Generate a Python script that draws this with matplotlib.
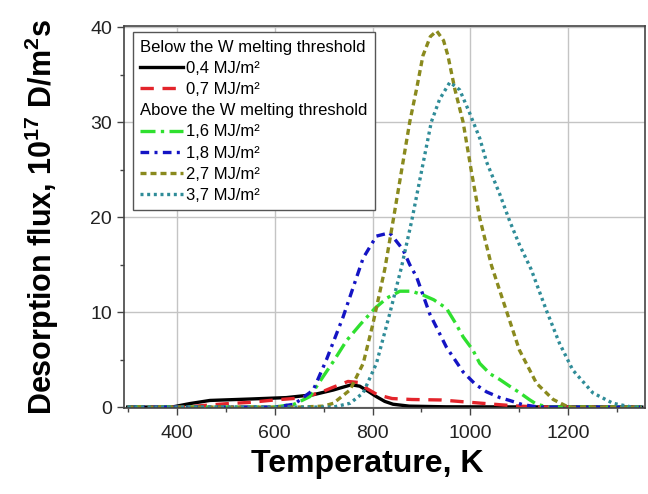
import matplotlib.pyplot as plt
from matplotlib.ticker import MultipleLocator

plt.rcParams['font.family'] = ['Liberation Sans', 'DejaVu Sans']
plt.rcParams['mathtext.fontset'] = 'custom'
plt.rcParams['mathtext.rm'] = 'Liberation Sans'
plt.rcParams['mathtext.bf'] = 'Liberation Sans:bold'

# temperature (K) / desorption flux (1e17 D/m2s)
t_04 = [300, 390, 427, 468, 550, 624, 679, 720, 740, 757, 774, 790, 808, 825, 842, 875, 950, 1350]
f_04 = [0, 0, 0.37, 0.7, 0.85, 1.0, 1.3, 1.8, 2.1, 2.35, 2.2, 1.7, 1.1, 0.6, 0.3, 0.1, 0.03, 0]

t_07 = [300, 420, 450, 500, 550, 600, 650, 692, 720, 750, 770, 790, 810, 840, 880, 940, 1000, 1060, 1100, 1150, 1350]
f_07 = [0, 0, 0.15, 0.35, 0.5, 0.75, 0.95, 1.5, 2.1, 2.7, 2.6, 1.9, 1.3, 0.9, 0.8, 0.75, 0.5, 0.25, 0.1, 0, 0]

t_16 = [300, 600, 640, 672, 699, 720, 747, 775, 805, 830, 856, 880, 903, 925, 951, 970, 985, 1005, 1019,
        1040, 1060, 1080, 1101, 1120, 1135, 1160, 1350]
f_16 = [0, 0, 0.3, 1.1, 3.2, 4.8, 7.0, 8.7, 10.4, 11.5, 12.2, 12.2, 11.8, 11.3, 10.4, 8.8, 7.4, 6.0, 4.6,
        3.5, 2.9, 2.2, 1.5, 0.8, 0.3, 0, 0]

t_18 = [300, 600, 640, 679, 706, 740, 781, 808, 835, 862, 876, 890, 917, 951, 985, 1010, 1033, 1060, 1080,
        1107, 1140, 1350]
f_18 = [0, 0, 0.3, 1.8, 5.0, 9.5, 15.7, 18.0, 18.35, 16.6, 15.0, 13.7, 9.8, 6.3, 3.7, 2.4, 1.6, 1.0, 0.7,
        0.25, 0, 0]

t_27 = [300, 650, 700, 720, 754, 781, 801, 825, 842, 859, 876, 890, 903, 918, 931, 945, 954, 968, 985, 1002,
        1019, 1043, 1073, 1100, 1135, 1169, 1200, 1350]
f_27 = [0, 0, 0.1, 0.4, 1.8, 4.6, 8.8, 14.5, 19.6, 24.8, 30.0, 33.5, 37.0, 39.0, 39.6, 38.6, 37.0, 33.5,
        30.0, 24.8, 19.9, 14.9, 10.2, 6.0, 2.5, 0.8, 0, 0]

t_37 = [300, 720, 754, 781, 808, 835, 859, 880, 900, 920, 937, 958, 978, 998, 1019, 1033, 1060, 1080, 1100,
        1124, 1155, 1182, 1209, 1250, 1291, 1330, 1350]
f_37 = [0, 0, 0.4, 1.5, 4.6, 9.8, 14.7, 19.6, 24.8, 30.0, 32.4, 34.2, 33.4, 31.0, 28.3, 25.8, 22.4, 19.6,
        17.1, 14.5, 10.2, 6.7, 3.9, 1.5, 0.4, 0, 0]

header_below = 'Below the W melting threshold'
header_above = 'Above the W melting threshold'

fig = plt.figure(figsize=(6.48, 4.94), dpi=100)
ax = fig.add_axes([0.191, 0.174, 0.804, 0.773])

lw = 2.4
l04, = ax.plot(t_04, f_04, color='black', lw=lw, label='0,4 MJ/m²')
l07, = ax.plot(t_07, f_07, color='#e3242b', lw=lw, ls=(0, (4, 2.6)), label='0,7 MJ/m²')
l16, = ax.plot(t_16, f_16, color='#2fe02f', lw=lw, ls=(0, (4.5, 1.6, 1, 1.6)), label='1,6 MJ/m²')
l18, = ax.plot(t_18, f_18, color='#1414c4', lw=lw, ls=(0, (2.6, 1.6, 0.9, 1.6)), label='1,8 MJ/m²')
l27, = ax.plot(t_27, f_27, color='#8a8a1e', lw=lw, ls=(0, (1.8, 1.2)), label='2,7 MJ/m²')
l37, = ax.plot(t_37, f_37, color='#2f8c98', lw=lw, ls=(0, (0.9, 1.1)), label='3,7 MJ/m²')

ax.set_xlim(292, 1356)
ax.set_ylim(-0.1, 40.1)
ax.xaxis.set_major_locator(MultipleLocator(200))
ax.xaxis.set_minor_locator(MultipleLocator(100))
ax.yaxis.set_major_locator(MultipleLocator(10))
ax.yaxis.set_minor_locator(MultipleLocator(5))
ax.grid(True, which='major', color='#c4c4c4', lw=1)
ax.set_axisbelow(True)
ax.tick_params(which='major', length=5, width=1, labelsize=14, color='#444444', labelcolor='#222222')
ax.tick_params(axis='x', which='major', pad=7)
ax.tick_params(which='minor', length=3, width=1, color='#444444')
for s in ax.spines.values():
    s.set_color('#444444')
    s.set_linewidth(1.2)

ax.set_xlabel('Temperature, K', fontsize=23, fontweight='bold')
ax.set_ylabel(r'Desorption flux, 10$^{\mathbf{17}}$ D/m$^{\mathbf{2}}$s', fontsize=22, fontweight='bold')
ax.xaxis.set_label_coords(0.468, -0.108)
ax.yaxis.set_label_coords(-0.12, 0.5)

blank = plt.Line2D([], [], color='none')
handles = [blank, l04, l07, blank, l16, l18, l27, l37]
labels = [header_below, l04.get_label(), l07.get_label(), header_above,
          l16.get_label(), l18.get_label(), l27.get_label(), l37.get_label()]
leg = ax.legend(handles, labels, loc='upper left', bbox_to_anchor=(0.017, 0.984), borderaxespad=0,
                fontsize=12, fancybox=False, edgecolor='#555555', framealpha=1, handlelength=2.6,
                handletextpad=0.15, labelspacing=0.37, borderpad=0.45)
leg.get_frame().set_linewidth(1)
for row in leg._legend_handle_box.get_children()[0].get_children():
    box, txt = row.get_children()
    if txt.get_children()[0].get_text() in (header_below, header_above):
        box.set_visible(False)
        box.width = 0
        row.sep = 0

fig.savefig('out.png', dpi=100)
